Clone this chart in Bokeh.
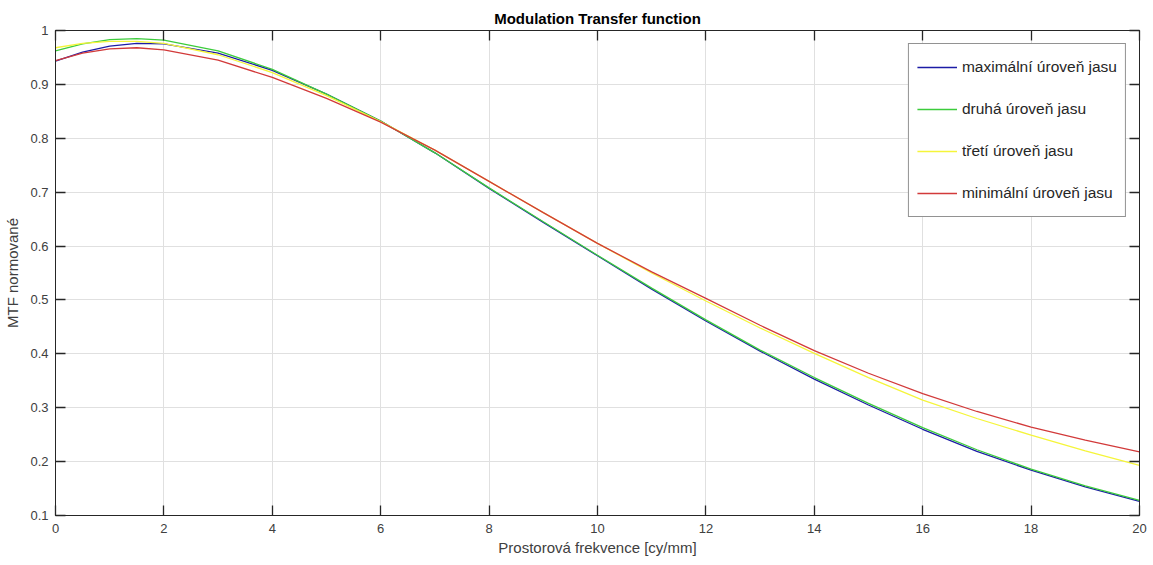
from bokeh.plotting import figure
from bokeh.models import (Range1d, FixedTicker, LinearAxis, CustomJSTickFormatter,
                          Legend, LegendItem)
from bokeh.embed import file_html
from bokeh.resources import INLINE

# ---- data ----
freq = [0, 0.5, 1, 1.5, 2, 3, 4, 5, 6, 7, 8, 9, 10, 11, 12, 13, 14, 15, 16, 17, 18, 19, 20]

mtf_max = [0.943, 0.960, 0.971, 0.976, 0.975, 0.958, 0.926, 0.882, 0.832, 0.773, 0.707,
           0.644, 0.582, 0.520, 0.461, 0.405, 0.353, 0.305, 0.260, 0.219, 0.184, 0.153, 0.126]
mtf_2 = [0.962, 0.975, 0.983, 0.985, 0.982, 0.962, 0.928, 0.882, 0.832, 0.773, 0.708,
         0.645, 0.583, 0.522, 0.463, 0.407, 0.356, 0.308, 0.263, 0.222, 0.186, 0.155, 0.128]
mtf_3 = [0.968, 0.976, 0.980, 0.980, 0.976, 0.955, 0.922, 0.879, 0.831, 0.778, 0.720,
         0.662, 0.605, 0.550, 0.498, 0.448, 0.401, 0.356, 0.314, 0.280, 0.249, 0.220, 0.193]
mtf_min = [0.944, 0.958, 0.966, 0.968, 0.964, 0.945, 0.913, 0.874, 0.830, 0.778, 0.720,
           0.662, 0.605, 0.552, 0.503, 0.453, 0.406, 0.364, 0.326, 0.293, 0.264, 0.240, 0.218]

series_names = ["maximální úroveň jasu", "druhá úroveň jasu", "třetí úroveň jasu", "minimální úroveň jasu"]
series_vals = [mtf_max, mtf_2, mtf_3, mtf_min]
series_colors = ["#1c1ca6", "#3ccc3c", "#f5f53a", "#d23a3a"]

x_ticks = [0, 2, 4, 6, 8, 10, 12, 14, 16, 18, 20]
y_ticks = [0.1, 0.2, 0.3, 0.4, 0.5, 0.6, 0.7, 0.8, 0.9, 1.0]

FONT = "Liberation Sans"
AX = "#262626"
TXT = "#404040"

p = figure(width=1153, height=565, output_backend="svg", toolbar_location=None,
           x_range=Range1d(0, 20), y_range=Range1d(0.1, 1.0),
           min_border_left=55, min_border_right=14, min_border_top=30, min_border_bottom=50,
           title="Modulation Transfer function")
p.title.align = "center"
p.title.text_font = FONT
p.title.text_font_size = "15px"
p.title.text_font_style = "bold"
p.title.text_color = "#000000"
p.title.offset = 0
p.title.standoff = 7

p.background_fill_color = "white"
p.border_fill_color = "white"
p.outline_line_color = AX
p.outline_line_width = 1

def style_axis(ax, labels=True):
    ax.axis_line_color = AX
    ax.major_tick_line_color = AX
    ax.major_tick_line_width = 1.3
    ax.major_tick_in = 10
    ax.major_tick_out = 0
    ax.minor_tick_in = 0
    ax.minor_tick_out = 0
    ax.major_label_text_font = FONT
    ax.major_label_text_font_size = "13px"
    ax.major_label_text_color = TXT
    ax.axis_label_text_font = FONT
    ax.axis_label_text_font_size = "15px"
    ax.axis_label_text_font_style = "normal"
    ax.axis_label_text_color = TXT
    if not labels:
        ax.major_label_text_font_size = "0px"
        ax.major_label_standoff = 0
        ax.formatter = CustomJSTickFormatter(code="return '';")

xa = p.xaxis[0]
xa.ticker = FixedTicker(ticks=x_ticks)
style_axis(xa)
xa.axis_label = "Prostorová frekvence [cy/mm]"
xa.major_label_standoff = 8
xa.axis_label_standoff = 3

ya = p.yaxis[0]
ya.ticker = FixedTicker(ticks=y_ticks)
ya.formatter = CustomJSTickFormatter(code="return tick.toFixed(1).replace(/\\.0$/, '');")
style_axis(ya)
ya.axis_label = "MTF normované"
ya.major_label_standoff = 7
ya.axis_label_standoff = 6

top_ax = LinearAxis(ticker=FixedTicker(ticks=x_ticks))
style_axis(top_ax, labels=False)
p.add_layout(top_ax, "above")
right_ax = LinearAxis(ticker=FixedTicker(ticks=y_ticks))
style_axis(right_ax, labels=False)
p.add_layout(right_ax, "right")

p.xgrid.ticker = FixedTicker(ticks=x_ticks)
p.ygrid.ticker = FixedTicker(ticks=y_ticks)
p.xgrid.grid_line_color = "#e0e0e0"
p.ygrid.grid_line_color = "#e0e0e0"

items = []
for name, vals, col in zip(series_names, series_vals, series_colors):
    r = p.line(freq, vals, line_color=col, line_width=1.3)
    items.append(LegendItem(label=name, renderers=[r]))

leg = Legend(items=items, location="top_right")
leg.label_text_font = FONT
leg.label_text_font_size = "15.5px"
leg.label_text_color = "#262626"
leg.border_line_color = AX
leg.border_line_width = 1
leg.background_fill_color = "white"
leg.background_fill_alpha = 1
leg.glyph_width = 40
leg.glyph_height = 30
leg.label_height = 30
leg.label_standoff = 5
leg.spacing = 12
leg.padding = 8
leg.margin = 13
p.add_layout(leg)

open("out.html", "w").write(file_html(p, INLINE))
